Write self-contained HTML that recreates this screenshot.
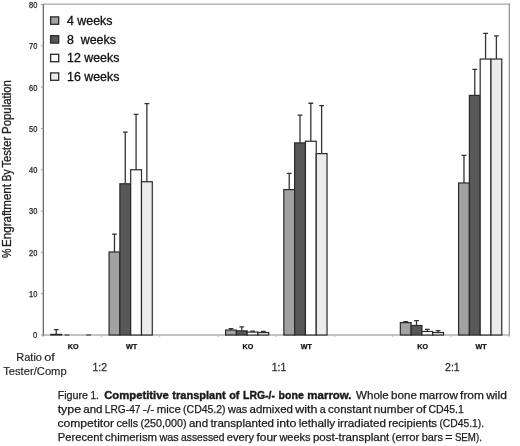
<!DOCTYPE html>
<html lang="en"><head><meta charset="utf-8"><title>Figure 1</title>
<style>html,body{margin:0;padding:0;background:#fff}svg{display:block;filter:blur(0.35px)}text{font-family:"Liberation Sans",sans-serif}</style></head><body>
<svg width="520" height="446" viewBox="0 0 520 446">
<rect width="520" height="446" fill="#fff"/>
<path d="M43.3 4.1H509.90000000000003" fill="none" stroke="#a6a6a6" stroke-width="1.4"/>
<path d="M509.3 3.4V335.0" fill="none" stroke="#8e8e8e" stroke-width="1.2"/>
<path d="M43.3 4.0V336.5" fill="none" stroke="#5c5c5c" stroke-width="1.2"/>
<path d="M43.3 335.0H509.8" fill="none" stroke="#8a8a8a" stroke-width="1.1"/>
<path d="M40.8 335.00H43.3" stroke="#999" stroke-width="0.9"/>
<text x="33.10" y="338.40" font-size="8.4" fill="#222" stroke="#222" stroke-width="0.25" textLength="4.2" lengthAdjust="spacingAndGlyphs">0</text>
<path d="M40.8 293.69H43.3" stroke="#999" stroke-width="0.9"/>
<text x="29.00" y="297.09" font-size="8.4" fill="#222" stroke="#222" stroke-width="0.25" textLength="8.3" lengthAdjust="spacingAndGlyphs">10</text>
<path d="M40.8 252.38H43.3" stroke="#999" stroke-width="0.9"/>
<text x="29.00" y="255.78" font-size="8.4" fill="#222" stroke="#222" stroke-width="0.25" textLength="8.3" lengthAdjust="spacingAndGlyphs">20</text>
<path d="M40.8 211.06H43.3" stroke="#999" stroke-width="0.9"/>
<text x="29.00" y="214.46" font-size="8.4" fill="#222" stroke="#222" stroke-width="0.25" textLength="8.3" lengthAdjust="spacingAndGlyphs">30</text>
<path d="M40.8 169.75H43.3" stroke="#999" stroke-width="0.9"/>
<text x="29.00" y="173.15" font-size="8.4" fill="#222" stroke="#222" stroke-width="0.25" textLength="8.3" lengthAdjust="spacingAndGlyphs">40</text>
<path d="M40.8 128.44H43.3" stroke="#999" stroke-width="0.9"/>
<text x="29.00" y="131.84" font-size="8.4" fill="#222" stroke="#222" stroke-width="0.25" textLength="8.3" lengthAdjust="spacingAndGlyphs">50</text>
<path d="M40.8 87.13H43.3" stroke="#999" stroke-width="0.9"/>
<text x="29.00" y="90.53" font-size="8.4" fill="#222" stroke="#222" stroke-width="0.25" textLength="8.3" lengthAdjust="spacingAndGlyphs">60</text>
<path d="M40.8 45.81H43.3" stroke="#999" stroke-width="0.9"/>
<text x="29.00" y="49.21" font-size="8.4" fill="#222" stroke="#222" stroke-width="0.25" textLength="8.3" lengthAdjust="spacingAndGlyphs">70</text>
<path d="M40.8 4.50H43.3" stroke="#999" stroke-width="0.9"/>
<text x="29.00" y="7.90" font-size="8.4" fill="#222" stroke="#222" stroke-width="0.25" textLength="8.3" lengthAdjust="spacingAndGlyphs">80</text>
<path d="M101.55 335.0V337.0" stroke="#b5b5b5" stroke-width="0.9"/>
<path d="M159.80 335.0V337.0" stroke="#b5b5b5" stroke-width="0.9"/>
<path d="M218.05 335.0V337.0" stroke="#b5b5b5" stroke-width="0.9"/>
<path d="M276.30 335.0V337.0" stroke="#b5b5b5" stroke-width="0.9"/>
<path d="M334.55 335.0V337.0" stroke="#b5b5b5" stroke-width="0.9"/>
<path d="M392.80 335.0V337.0" stroke="#b5b5b5" stroke-width="0.9"/>
<path d="M451.05 335.0V337.0" stroke="#b5b5b5" stroke-width="0.9"/>
<path d="M509.30 335.0V337.0" stroke="#b5b5b5" stroke-width="0.9"/>
<rect x="50.82" y="334.38" width="10.8" height="0.62" fill="#a2a2a2" stroke="#2a2a2a" stroke-width="1.2"/>
<path d="M56.22 334.38V329.63M53.82 329.63h4.8" fill="none" stroke="#333" stroke-width="1.3"/>
<path d="M64.62 335.0h4.8" stroke="#444" stroke-width="1.2"/>
<path d="M86.22 335.0h4.8" stroke="#444" stroke-width="1.2"/>
<rect x="109.08" y="251.96" width="10.8" height="83.04" fill="#a2a2a2" stroke="#2a2a2a" stroke-width="1.2"/>
<path d="M114.48 251.96V234.20M112.08 234.20h4.8" fill="none" stroke="#333" stroke-width="1.3"/>
<rect x="119.88" y="183.80" width="10.8" height="151.20" fill="#585858" stroke="#2a2a2a" stroke-width="1.2"/>
<path d="M125.28 183.80V132.16M122.88 132.16h4.8" fill="none" stroke="#333" stroke-width="1.3"/>
<rect x="130.68" y="169.75" width="10.8" height="165.25" fill="#ffffff" stroke="#2a2a2a" stroke-width="1.2"/>
<path d="M136.08 169.75V114.39M133.68 114.39h4.8" fill="none" stroke="#333" stroke-width="1.3"/>
<rect x="141.48" y="181.73" width="10.8" height="153.27" fill="#ececec" stroke="#2a2a2a" stroke-width="1.2"/>
<path d="M146.88 181.73V103.65M144.48 103.65h4.8" fill="none" stroke="#333" stroke-width="1.3"/>
<rect x="225.58" y="330.04" width="10.8" height="4.96" fill="#a2a2a2" stroke="#2a2a2a" stroke-width="1.2"/>
<path d="M230.98 330.04V328.60M228.58 328.60h4.8" fill="none" stroke="#333" stroke-width="1.3"/>
<rect x="236.38" y="330.87" width="10.8" height="4.13" fill="#585858" stroke="#2a2a2a" stroke-width="1.2"/>
<path d="M241.78 330.87V326.94M239.38 326.94h4.8" fill="none" stroke="#333" stroke-width="1.3"/>
<rect x="247.18" y="332.11" width="10.8" height="2.89" fill="#ffffff" stroke="#2a2a2a" stroke-width="1.2"/>
<path d="M252.58 332.11V331.08M250.18 331.08h4.8" fill="none" stroke="#333" stroke-width="1.3"/>
<rect x="257.98" y="332.52" width="10.8" height="2.48" fill="#ececec" stroke="#2a2a2a" stroke-width="1.2"/>
<path d="M263.38 332.52V331.49M260.98 331.49h4.8" fill="none" stroke="#333" stroke-width="1.3"/>
<rect x="283.82" y="189.58" width="10.8" height="145.42" fill="#a2a2a2" stroke="#2a2a2a" stroke-width="1.2"/>
<path d="M289.22 189.58V173.47M286.82 173.47h4.8" fill="none" stroke="#333" stroke-width="1.3"/>
<rect x="294.62" y="142.90" width="10.8" height="192.10" fill="#585858" stroke="#2a2a2a" stroke-width="1.2"/>
<path d="M300.02 142.90V115.22M297.62 115.22h4.8" fill="none" stroke="#333" stroke-width="1.3"/>
<rect x="305.43" y="141.24" width="10.8" height="193.76" fill="#ffffff" stroke="#2a2a2a" stroke-width="1.2"/>
<path d="M310.82 141.24V103.24M308.43 103.24h4.8" fill="none" stroke="#333" stroke-width="1.3"/>
<rect x="316.23" y="153.64" width="10.8" height="181.36" fill="#ececec" stroke="#2a2a2a" stroke-width="1.2"/>
<path d="M321.62 153.64V105.72M319.23 105.72h4.8" fill="none" stroke="#333" stroke-width="1.3"/>
<rect x="400.32" y="322.61" width="10.8" height="12.39" fill="#a2a2a2" stroke="#2a2a2a" stroke-width="1.2"/>
<path d="M405.72 322.61V321.57M403.32 321.57h4.8" fill="none" stroke="#333" stroke-width="1.3"/>
<rect x="411.12" y="325.50" width="10.8" height="9.50" fill="#585858" stroke="#2a2a2a" stroke-width="1.2"/>
<path d="M416.52 325.50V320.54M414.12 320.54h4.8" fill="none" stroke="#333" stroke-width="1.3"/>
<rect x="421.93" y="331.49" width="10.8" height="3.51" fill="#ffffff" stroke="#2a2a2a" stroke-width="1.2"/>
<path d="M427.32 331.49V329.42M424.93 329.42h4.8" fill="none" stroke="#333" stroke-width="1.3"/>
<rect x="432.73" y="332.52" width="10.8" height="2.48" fill="#ececec" stroke="#2a2a2a" stroke-width="1.2"/>
<path d="M438.12 332.52V330.66M435.73 330.66h4.8" fill="none" stroke="#333" stroke-width="1.3"/>
<rect x="458.57" y="182.97" width="10.8" height="152.03" fill="#a2a2a2" stroke="#2a2a2a" stroke-width="1.2"/>
<path d="M463.97 182.97V155.29M461.57 155.29h4.8" fill="none" stroke="#333" stroke-width="1.3"/>
<rect x="469.38" y="95.39" width="10.8" height="239.61" fill="#585858" stroke="#2a2a2a" stroke-width="1.2"/>
<path d="M474.77 95.39V69.36M472.38 69.36h4.8" fill="none" stroke="#333" stroke-width="1.3"/>
<rect x="480.18" y="59.03" width="10.8" height="275.97" fill="#ffffff" stroke="#2a2a2a" stroke-width="1.2"/>
<path d="M485.57 59.03V33.42M483.18 33.42h4.8" fill="none" stroke="#333" stroke-width="1.3"/>
<rect x="490.98" y="59.03" width="10.8" height="275.97" fill="#ececec" stroke="#2a2a2a" stroke-width="1.2"/>
<path d="M496.38 59.03V35.90M493.98 35.90h4.8" fill="none" stroke="#333" stroke-width="1.3"/>
<text x="73.22" y="349.3" font-size="7.2" font-weight="bold" text-anchor="middle" fill="#111" stroke="#111" stroke-width="0.25">KO</text>
<text x="131.48" y="349.3" font-size="7.2" font-weight="bold" text-anchor="middle" fill="#111" stroke="#111" stroke-width="0.25">WT</text>
<text x="247.98" y="349.3" font-size="7.2" font-weight="bold" text-anchor="middle" fill="#111" stroke="#111" stroke-width="0.25">KO</text>
<text x="306.23" y="349.3" font-size="7.2" font-weight="bold" text-anchor="middle" fill="#111" stroke="#111" stroke-width="0.25">WT</text>
<text x="422.73" y="349.3" font-size="7.2" font-weight="bold" text-anchor="middle" fill="#111" stroke="#111" stroke-width="0.25">KO</text>
<text x="480.98" y="349.3" font-size="7.2" font-weight="bold" text-anchor="middle" fill="#111" stroke="#111" stroke-width="0.25">WT</text>
<rect x="50.6" y="16.9" width="8.1" height="7.4" fill="#a2a2a2" stroke="#2a2a2a" stroke-width="1.3"/>
<text x="67" y="25.3" font-size="12.4" fill="#111" stroke="#111" stroke-width="0.3" xml:space="preserve">4 weeks</text>
<rect x="50.6" y="35.7" width="8.1" height="7.4" fill="#585858" stroke="#2a2a2a" stroke-width="1.3"/>
<text x="67" y="43.8" font-size="12.4" fill="#111" stroke="#111" stroke-width="0.3" xml:space="preserve">8  weeks</text>
<rect x="50.6" y="54.3" width="8.1" height="7.4" fill="#ffffff" stroke="#2a2a2a" stroke-width="1.3"/>
<text x="67" y="62.4" font-size="12.4" fill="#111" stroke="#111" stroke-width="0.3" xml:space="preserve">12 weeks</text>
<rect x="50.6" y="72.9" width="8.1" height="7.4" fill="#ececec" stroke="#2a2a2a" stroke-width="1.3"/>
<text x="67" y="81.0" font-size="12.4" fill="#111" stroke="#111" stroke-width="0.3" xml:space="preserve">16 weeks</text>
<g transform="translate(10.6 257.7) rotate(-90)" font-size="12" fill="#222" stroke="#222" stroke-width="0.3">
<text x="-0.40" y="0" textLength="9.4" lengthAdjust="spacingAndGlyphs">%</text>
<text x="10.80" y="0" textLength="62.9" lengthAdjust="spacingAndGlyphs">Engraftment</text>
<text x="76.40" y="0" textLength="11.8" lengthAdjust="spacingAndGlyphs">By</text>
<text x="90.10" y="0" textLength="30.8" lengthAdjust="spacingAndGlyphs">Tester</text>
<text x="123.80" y="0" textLength="53.8" lengthAdjust="spacingAndGlyphs">Population</text>
</g>
<g font-size="11.3" fill="#222" stroke="#222" stroke-width="0.15">
<text x="16.20" y="360.6" textLength="25.8" lengthAdjust="spacingAndGlyphs">Ratio</text>
<text x="44.30" y="360.6" textLength="10.6" lengthAdjust="spacingAndGlyphs">of</text>
<text x="3.20" y="375.3" textLength="63.5" lengthAdjust="spacingAndGlyphs">Tester/Comp</text>
</g>
<text x="92.4" y="370.7" font-size="11.3" fill="#333" stroke="#333" stroke-width="0.3" textLength="14.6" lengthAdjust="spacingAndGlyphs">1:2</text>
<text x="271.7" y="370.7" font-size="11.3" fill="#333" stroke="#333" stroke-width="0.3" textLength="14.6" lengthAdjust="spacingAndGlyphs">1:1</text>
<text x="445.1" y="370.7" font-size="11.3" fill="#333" stroke="#333" stroke-width="0.3" textLength="14.6" lengthAdjust="spacingAndGlyphs">2:1</text>
<g font-size="11.3" fill="#1a1a1a" stroke="#1a1a1a" stroke-width="0.25">
<text x="57.70" y="398.5" textLength="30.4" lengthAdjust="spacingAndGlyphs">Figure</text>
<text x="90.50" y="398.5" textLength="8.3" lengthAdjust="spacingAndGlyphs">1.</text>
<text x="104.20" y="398.5" font-weight="bold" stroke-width="0.4" textLength="64.6" lengthAdjust="spacingAndGlyphs">Competitive</text>
<text x="172.35" y="398.5" font-weight="bold" stroke-width="0.4" textLength="53.3" lengthAdjust="spacingAndGlyphs">transplant</text>
<text x="229.20" y="398.5" font-weight="bold" stroke-width="0.4" textLength="10.2" lengthAdjust="spacingAndGlyphs">of</text>
<text x="243.00" y="398.5" font-weight="bold" stroke-width="0.4" textLength="32.0" lengthAdjust="spacingAndGlyphs">LRG-/-</text>
<text x="278.60" y="398.5" font-weight="bold" stroke-width="0.4" textLength="25.2" lengthAdjust="spacingAndGlyphs">bone</text>
<text x="307.35" y="398.5" font-weight="bold" stroke-width="0.4" textLength="44.2" lengthAdjust="spacingAndGlyphs">marrow.</text>
<text x="356.10" y="398.5" textLength="32.7" lengthAdjust="spacingAndGlyphs">Whole</text>
<text x="391.10" y="398.5" textLength="25.8" lengthAdjust="spacingAndGlyphs">bone</text>
<text x="419.20" y="398.5" textLength="38.6" lengthAdjust="spacingAndGlyphs">marrow</text>
<text x="460.10" y="398.5" textLength="23.8" lengthAdjust="spacingAndGlyphs">from</text>
<text x="486.20" y="398.5" textLength="20.7" lengthAdjust="spacingAndGlyphs">wild</text>
</g>
<g font-size="11.3" fill="#1a1a1a" stroke="#1a1a1a" stroke-width="0.25">
<text x="57.70" y="412.8" textLength="23.3" lengthAdjust="spacingAndGlyphs">type</text>
<text x="83.30" y="412.8" textLength="19.2" lengthAdjust="spacingAndGlyphs">and</text>
<text x="104.80" y="412.8" textLength="35.7" lengthAdjust="spacingAndGlyphs">LRG-47</text>
<text x="142.80" y="412.8" textLength="11.6" lengthAdjust="spacingAndGlyphs">-/-</text>
<text x="156.70" y="412.8" textLength="24.1" lengthAdjust="spacingAndGlyphs">mice</text>
<text x="183.10" y="412.8" textLength="42.5" lengthAdjust="spacingAndGlyphs">(CD45.2)</text>
<text x="227.90" y="412.8" textLength="19.3" lengthAdjust="spacingAndGlyphs">was</text>
<text x="249.50" y="412.8" textLength="43.4" lengthAdjust="spacingAndGlyphs">admixed</text>
<text x="295.30" y="412.8" textLength="22.2" lengthAdjust="spacingAndGlyphs">with</text>
<text x="319.80" y="412.8" textLength="5.9" lengthAdjust="spacingAndGlyphs">a</text>
<text x="328.00" y="412.8" textLength="43.5" lengthAdjust="spacingAndGlyphs">constant</text>
<text x="373.80" y="412.8" textLength="39.8" lengthAdjust="spacingAndGlyphs">number</text>
<text x="415.90" y="412.8" textLength="10.2" lengthAdjust="spacingAndGlyphs">of</text>
<text x="428.40" y="412.8" textLength="35.4" lengthAdjust="spacingAndGlyphs">CD45.1</text>
</g>
<g font-size="11.3" fill="#1a1a1a" stroke="#1a1a1a" stroke-width="0.25">
<text x="57.40" y="426.9" textLength="56.6" lengthAdjust="spacingAndGlyphs">competitor</text>
<text x="116.40" y="426.9" textLength="21.8" lengthAdjust="spacingAndGlyphs">cells</text>
<text x="140.50" y="426.9" textLength="46.0" lengthAdjust="spacingAndGlyphs">(250,000)</text>
<text x="188.90" y="426.9" textLength="19.2" lengthAdjust="spacingAndGlyphs">and</text>
<text x="210.40" y="426.9" textLength="63.6" lengthAdjust="spacingAndGlyphs">transplanted</text>
<text x="276.40" y="426.9" textLength="20.0" lengthAdjust="spacingAndGlyphs">into</text>
<text x="298.70" y="426.9" textLength="36.5" lengthAdjust="spacingAndGlyphs">lethally</text>
<text x="337.50" y="426.9" textLength="48.4" lengthAdjust="spacingAndGlyphs">irradiated</text>
<text x="388.20" y="426.9" textLength="48.9" lengthAdjust="spacingAndGlyphs">recipients</text>
<text x="439.40" y="426.9" textLength="44.7" lengthAdjust="spacingAndGlyphs">(CD45.1).</text>
</g>
<g font-size="11.3" fill="#1a1a1a" stroke="#1a1a1a" stroke-width="0.25">
<text x="57.70" y="440.9" textLength="45.0" lengthAdjust="spacingAndGlyphs">Perecent</text>
<text x="105.10" y="440.9" textLength="52.0" lengthAdjust="spacingAndGlyphs">chimerism</text>
<text x="159.40" y="440.9" textLength="19.4" lengthAdjust="spacingAndGlyphs">was</text>
<text x="181.10" y="440.9" textLength="43.4" lengthAdjust="spacingAndGlyphs">assessed</text>
<text x="226.80" y="440.9" textLength="27.3" lengthAdjust="spacingAndGlyphs">every</text>
<text x="256.50" y="440.9" textLength="20.6" lengthAdjust="spacingAndGlyphs">four</text>
<text x="279.40" y="440.9" textLength="31.2" lengthAdjust="spacingAndGlyphs">weeks</text>
<text x="312.90" y="440.9" textLength="76.4" lengthAdjust="spacingAndGlyphs">post-transplant</text>
<text x="391.70" y="440.9" textLength="27.7" lengthAdjust="spacingAndGlyphs">(error</text>
<text x="421.70" y="440.9" textLength="21.3" lengthAdjust="spacingAndGlyphs">bars</text>
<text x="445.30" y="440.9" textLength="7.3" lengthAdjust="spacingAndGlyphs">=</text>
<text x="454.90" y="440.9" textLength="27.0" lengthAdjust="spacingAndGlyphs">SEM).</text>
</g>
</svg></body></html>
